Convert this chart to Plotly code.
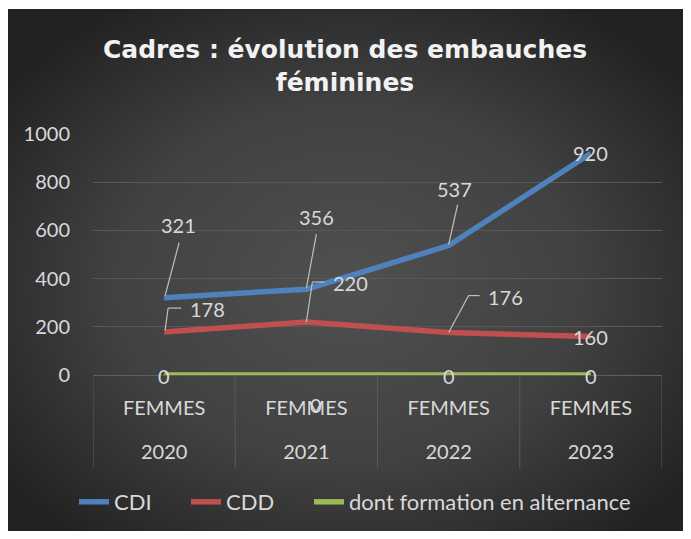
import base64
import plotly.graph_objects as go

# ---- data ----
years = ["2020", "2021", "2022", "2023"]
group_label = ["FEMMES", "FEMMES", "FEMMES", "FEMMES"]
cdi = [321, 356, 537, 920]
cdd = [178, 220, 176, 160]
alternance = [0, 0, 0, 0]
series_names = ["CDI", "CDD", "dont formation en alternance"]
title_text = "Cadres : évolution des embauches<br>féminines"
y_ticks = [0, 200, 400, 600, 800, 1000]

colors = ["#4F81BD", "#C0504D", "#9BBB59"]
FONT = "Lato, 'Open Sans', sans-serif"
TXT = "#d9d9d9"

# the page body adds an 8px margin; work in reference pixels and subtract it
OFF = 8
W, H = 691 - 2 * OFF, 539 - 2 * OFF
PLOT_L, PLOT_R, PLOT_T, PLOT_B = 93, 662, 134, 375  # reference pixels
L, R = PLOT_L - OFF, W - (PLOT_R - OFF)
T, B = PLOT_T - OFF, H - (PLOT_B - OFF)
PW, PH = W - L - R, H - T - B


def px_x(p):
    return (p - OFF - L) / PW


def px_y(p):
    return (H - B - (p - OFF)) / PH


tick_text = [
    f'<span style="font-size:20px">{g}</span><br><br>'
    f'<span style="font-size:20px">{y}</span>'
    for g, y in zip(group_label, years)
]

legend_ids = ["legend", "legend2", "legend3"]
legend_left_px = [74, 186, 309]

fig = go.Figure()
for name, vals, col, lid in zip(series_names, [cdi, cdd, alternance],
                                colors, legend_ids):
    fig.add_trace(go.Scatter(
        x=years, y=vals, name=name, mode="lines",
        line=dict(color=col, width=5.5),
        hoverinfo="skip", legend=lid,
    ))

# background gradient (chart area)
svg = (
    '<svg xmlns="http://www.w3.org/2000/svg" width="686" height="530">'
    '<defs><radialGradient id="g" cx="50%" cy="52%" r="62%">'
    '<stop offset="0" stop-color="#505050"/>'
    '<stop offset="0.55" stop-color="#414141"/>'
    '<stop offset="1" stop-color="#222222"/>'
    '</radialGradient></defs>'
    '<rect width="686" height="530" fill="url(#g)"/></svg>'
)
src = "data:image/svg+xml;base64," + base64.b64encode(svg.encode()).decode()
images = [dict(source=src, xref="paper", yref="paper",
               x=px_x(5), y=px_y(9), sizex=686 / PW, sizey=530 / PH,
               xanchor="left", yanchor="top", sizing="stretch",
               layer="below")]

shapes = []
annotations = []

# category dividers below the axis
for i in range(len(years) + 1):
    shapes.append(dict(
        type="line", xref="x", yref="paper",
        x0=i - 0.5, x1=i - 0.5, y0=0, y1=px_y(468),
        line=dict(color="#5a5a5a", width=1),
    ))

# data labels: (series values, index, dx, dy, leader pixel path points)
label_specs = [
    (cdi, 0, 14, 73, [(1, 2), (15, 55)]),
    (cdd, 0, 43, 23, [(1, 2), (4, 24), (17, 24)]),
    (cdi, 1, 10, 72, [(0, 1), (10, 55)]),
    (cdd, 1, 44, 39, [(0, 0), (6, 40), (18, 40)]),
    (cdi, 2, 6, 57, [(0, 1), (9, 41)]),
    (cdd, 2, 57, 36, [(0, 0), (20, 37), (31, 37)]),
    (cdi, 3, 0, 0, None),
    (cdd, 3, 0, -1, None),
    (alternance, 0, 0, -1, None),
    (alternance, 1, 10, -30, None),
    (alternance, 2, 0, -1, None),
    (alternance, 3, 0, -1, None),
]
for vals, i, dx, dy, path in label_specs:
    annotations.append(dict(
        x=i, y=vals[i], xref="x", yref="y", text=str(vals[i]),
        showarrow=False, xshift=dx, yshift=dy,
        font=dict(family=FONT, size=20, color=TXT),
    ))
    if path:
        for (ax0, ay0), (ax1, ay1) in zip(path[:-1], path[1:]):
            shapes.append(dict(
                type="line", xref="x", yref="y",
                xsizemode="pixel", ysizemode="pixel",
                xanchor=i, yanchor=vals[i],
                x0=ax0, x1=ax1, y0=ay0, y1=ay1,
                line=dict(color="#bfbfbf", width=1.2),
            ))

legend_layout = {}
for lid, lx in zip(legend_ids, legend_left_px):
    legend_layout[lid] = dict(
        orientation="h", x=px_x(lx), xanchor="left",
        y=px_y(502), yanchor="middle",
        font=dict(family=FONT, size=22, color=TXT),
        bgcolor="rgba(0,0,0,0)",
    )

fig.update_layout(
    width=W, height=H,
    margin=dict(l=L, r=R, t=T, b=B, autoexpand=False),
    paper_bgcolor="white",
    plot_bgcolor="rgba(0,0,0,0)",
    images=images,
    shapes=shapes,
    annotations=annotations,
    title=dict(
        text=title_text, x=px_x(345), xref="paper", xanchor="center",
        y=1 - 50 / H, yanchor="top",
        font=dict(family="'DejaVu Sans', sans-serif", size=25,
                  color="#f2f2f2", weight="bold"),
    ),
    showlegend=True,
    xaxis=dict(
        type="category", range=[-0.5, 3.5],
        tickvals=years, ticktext=tick_text,
        showgrid=False, showline=False, zeroline=False,
        tickfont=dict(family=FONT, size=17, color=TXT),
        ticks="", ticklabelstandoff=22,
    ),
    yaxis=dict(
        range=[0, 1000], tickvals=y_ticks,
        showgrid=True, gridcolor="#585858", gridwidth=1,
        zeroline=True, zerolinecolor="#5e5e5e", zerolinewidth=1,
        showline=False, ticks="", ticklabelstandoff=22,
        tickfont=dict(family=FONT, size=20, color=TXT),
    ),
    **legend_layout,
)

fig.write_html("out.html")
